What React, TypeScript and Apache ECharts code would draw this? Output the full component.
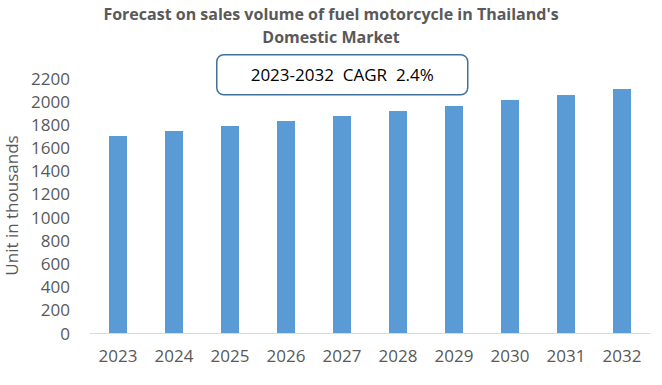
import React, { useEffect, useRef } from "react";
import * as echarts from "echarts";

const categories = ["2023", "2024", "2025", "2026", "2027", "2028", "2029", "2030", "2031", "2032"];
const salesValues = [1700, 1743, 1786, 1829, 1872, 1915, 1958, 2010, 2053, 2105];
const titleLines = ["Forecast on sales volume of fuel motorcycle in Thailand's", "Domestic Market"];
const cagrText = "2023-2032  CAGR  2.4%";
const yAxisName = "Unit in thousands";

const FONT = "'Open Sans', sans-serif";

export default function App() {
  const ref = useRef<HTMLDivElement>(null);
  useEffect(() => {
    if (!ref.current) return;
    const chart = echarts.init(ref.current, null, { renderer: "svg" });
    chart.setOption({
      animation: false,
      backgroundColor: "#ffffff",
      title: {
        text: titleLines.join("\n"),
        left: "center",
        top: -3,
        textStyle: {
          fontFamily: FONT,
          fontWeight: "bold",
          fontSize: 16,
          color: "#595959",
          lineHeight: 23,
        },
      },
      graphic: [
        {
          type: "group",
          left: 216,
          top: 54,
          z: 10,
          children: [
            {
              type: "rect",
              shape: { x: 0, y: 0, width: 251, height: 40, r: 7 },
              style: { fill: "#ffffff", stroke: "#41719c", lineWidth: 1.5 },
            },
            {
              type: "text",
              x: 125.5,
              y: 20,
              style: {
                text: cagrText,
                align: "center",
                verticalAlign: "middle",
                fontFamily: FONT,
                fontSize: 17,
                fill: "#000000",
              },
            },
          ],
        },
      ],
      grid: { left: 90, right: 12, top: 78, bottom: 52, containLabel: false, outerBoundsMode: "none" },
      xAxis: {
        type: "category",
        data: categories,
        axisLine: { lineStyle: { color: "#d9d9d9", width: 1 } },
        axisTick: { show: false },
        axisLabel: { fontFamily: FONT, fontSize: 17, color: "#595959", margin: 14 },
      },
      yAxis: {
        type: "value",
        min: 0,
        max: 2200,
        interval: 200,
        name: yAxisName,
        nameLocation: "middle",
        nameGap: 66,
        nameTextStyle: { fontFamily: FONT, fontSize: 17, color: "#595959" },
        axisLine: { show: false },
        axisTick: { show: false },
        splitLine: { show: false },
        axisLabel: {
          fontFamily: FONT,
          fontSize: 17,
          color: "#595959",
          margin: 20,
          formatter: (v: number) => String(v),
        },
      },
      series: [
        {
          type: "bar",
          data: salesValues,
          barWidth: 18,
          itemStyle: { color: "#5b9bd5" },
        },
      ],
    });
    return () => chart.dispose();
  }, []);
  return (
    <div
      ref={ref}
      style={{ position: "fixed", left: 0, top: 0, width: 662, height: 385 }}
    />
  );
}
